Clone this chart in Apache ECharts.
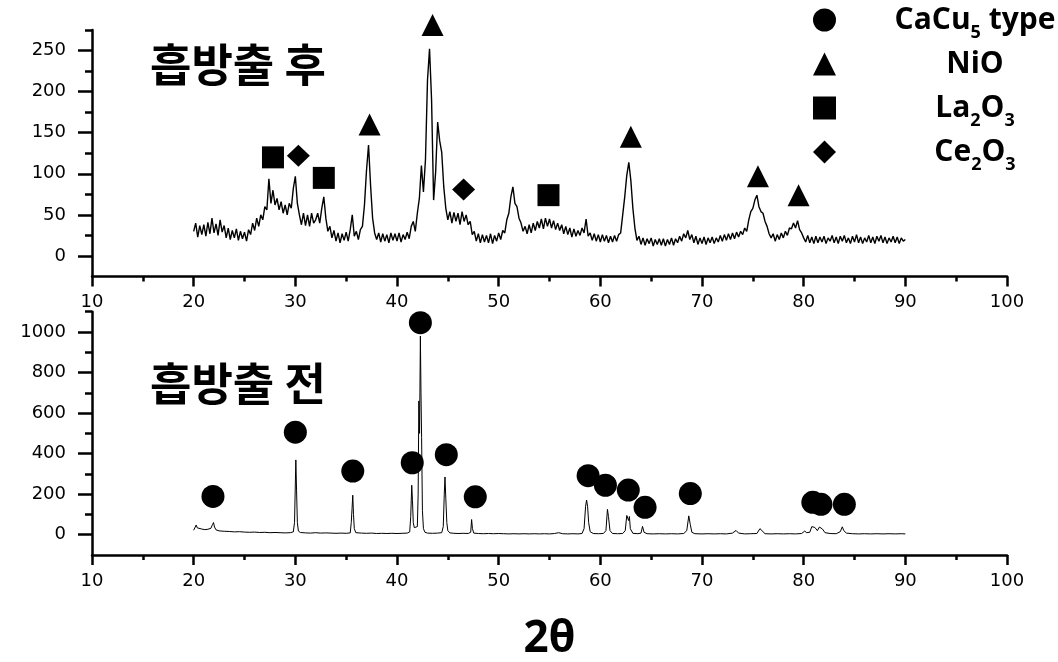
<!DOCTYPE html>
<html>
<head>
<meta charset="utf-8">
<script src="https://cdn.jsdelivr.net/npm/echarts@6/dist/echarts.min.js"></script>
<style>
html,body{margin:0;padding:0;background:#fff;}
#chart{width:1058px;height:662px;}
</style>
</head>
<body>
<div id="chart"></div>
<script>
// ---- Data ----
// Top pattern (after absorption/desorption): counts sampled every 0.2 deg from 20 to 90
const topStart = 20;
const topStep = 0.2;
const topCounts = [
  30, 40, 23, 37, 26,   38, 24, 41, 27, 46,   28, 39, 25, 44, 29,   37, 22, 34, 20, 31,
  22, 33, 19, 30, 21,   29, 18, 32, 26, 40,   31, 46, 36, 50, 44,   60, 56, 94, 64, 80,
  62, 70, 56, 66, 52,   62, 50, 64, 58, 82,   97, 64, 50, 38, 52,   37, 50, 36, 52, 40,
  44, 52, 40, 58, 72,   46, 30, 36, 22, 31,   18, 28, 16, 27, 19,   29, 18, 32, 50, 24,
  30, 20, 32, 36, 62,   104, 135, 86, 46, 28, 20, 28, 17, 27, 18,   26, 16, 28, 19, 27,
  18, 28, 17, 26, 20,   29, 21, 36, 42, 30,   52, 70, 110, 78, 117, 214, 252, 190, 68, 102,
  163, 140, 126, 84, 58, 44, 54, 40, 53, 42,  52, 38, 54, 42, 50,   38, 42, 26, 30, 18,
  27, 16, 26, 17, 25,   16, 27, 15, 25, 18,   28, 20, 31, 28, 44,   52, 72, 84, 64, 60,
  46, 40, 30, 36, 27,   38, 28, 40, 31, 42,   34, 45, 33, 46, 36,   45, 34, 43, 32, 40,
  31, 38, 27, 36, 26,   34, 23, 33, 24, 31,   25, 34, 28, 45, 24,   28, 19, 27, 18, 26,
  17, 26, 18, 25, 16,   24, 17, 25, 18, 26,   28, 50, 72, 98, 114,  92, 58, 34, 19, 24,
  14, 22, 13, 21, 15,   22, 12, 20, 14, 21,   13, 21, 12, 20, 14,   22, 13, 21, 16, 24,
  18, 27, 22, 31, 20,   26, 16, 24, 14, 22,   15, 23, 14, 22, 16,   23, 15, 22, 17, 25,
  18, 26, 19, 27, 20,   28, 21, 29, 23, 30,   26, 34, 30, 44, 54,   58, 68, 74, 60, 54,
  52, 42, 36, 27, 22,   27, 18, 26, 20, 28,   22, 30, 25, 34, 33,   40, 34, 43, 32, 28,
  22, 17, 25, 16, 23,   15, 24, 16, 23, 17,   24, 15, 22, 18, 25,   16, 23, 15, 24, 18,
  25, 16, 22, 15, 24,   17, 26, 16, 23, 15,   22, 17, 25, 16, 23,   15, 24, 18, 25, 16,
  23, 15, 22, 17, 24,   16, 23, 15, 22, 18,   20
];

// Bottom pattern (before absorption/desorption): [2theta, counts]
const bottomPattern = [
  [20.0,22],[20.15,30],[20.25,48],[20.35,34],[20.5,26],[20.8,28],[21.1,25],[21.4,27],[21.7,32],[21.85,50],
  [21.95,60],[22.05,38],[22.2,24],[22.5,19],[23.0,17],[23.5,16],[24.0,14],[24.5,15],[25.0,13],[25.5,12],
  [26.0,13],[26.5,11],[27.0,12],[27.5,10],[28.0,11],[28.5,10],[29.0,9],[29.5,10],[29.8,14],[29.92,60],
  [30.0,250],[30.05,369],[30.12,220],[30.2,60],[30.3,18],[30.5,11],[31.0,9],[31.5,8],[32.0,10],[32.5,8],
  [33.0,9],[33.5,8],[34.0,7],[34.5,8],[35.0,7],[35.4,9],[35.5,60],[35.58,130],[35.65,195],[35.72,100],
  [35.8,30],[35.95,10],[36.5,8],[37.0,7],[37.5,8],[38.0,6],[38.5,7],[39.0,6],[39.5,7],[40.0,6],
  [40.5,7],[41.0,8],[41.25,14],[41.35,90],[41.45,244],[41.52,170],[41.6,60],[41.7,35],[41.85,30],[42.0,40],
  [42.08,200],[42.15,660],[42.22,500],[42.3,980],[42.36,700],[42.42,480],[42.5,120],[42.6,30],[42.75,12],[43.0,8],
  [43.5,7],[44.0,8],[44.4,10],[44.55,40],[44.65,200],[44.72,285],[44.8,180],[44.9,60],[45.0,20],[45.2,9],
  [45.6,7],[46.0,6],[46.5,7],[47.0,6],[47.25,12],[47.34,75],[47.42,30],[47.55,8],[48.0,6],[48.5,5],
  [49.0,6],[49.5,5],[50.0,6],[50.5,5],[51.0,4],[51.5,5],[52.0,4],[52.5,5],[53.0,4],[53.5,5],
  [54.0,4],[54.5,5],[55.0,4],[55.5,6],[55.9,10],[56.3,5],[56.8,4],[57.3,5],[57.8,4],[58.2,6],
  [58.4,30],[58.55,140],[58.65,171],[58.75,138],[58.85,60],[59.0,15],[59.3,6],[59.8,5],[60.3,6],[60.55,20],
  [60.7,125],[60.8,90],[60.95,20],[61.2,6],[61.7,5],[62.2,6],[62.45,20],[62.6,95],[62.7,101],[62.78,70],
  [62.86,90],[62.95,30],[63.2,7],[63.7,5],[64.0,8],[64.15,41],[64.3,12],[64.6,5],[65.2,4],[65.8,5],
  [66.4,4],[67.0,5],[67.6,4],[68.2,6],[68.5,20],[68.7,93],[68.85,50],[69.0,12],[69.3,5],[70.0,4],
  [70.6,5],[71.2,4],[71.8,5],[72.4,4],[73.0,8],[73.35,21],[73.6,8],[74.2,4],[74.8,5],[75.4,6],
  [75.7,30],[75.8,39],[75.9,20],[76.2,5],[76.8,4],[77.4,5],[78.0,4],[78.6,5],[79.2,4],[79.8,6],
  [80.1,18],[80.3,10],[80.6,12],[80.8,40],[80.95,49],[81.1,36],[81.35,20],[81.55,38],[81.7,46],[81.85,28],
  [82.1,10],[82.6,6],[83.2,5],[83.6,15],[83.8,39],[83.95,20],[84.2,8],[84.8,5],[85.4,4],[86.0,5],
  [86.6,4],[87.2,5],[87.8,4],[88.4,5],[89.0,4],[89.6,5],[90.0,4]
];

// Phase markers [2theta, height]
const cacu5Marks = [[21.9,189],[30.0,506],[35.65,314],[41.5,355],[42.3,1046],[44.85,395],[47.7,187],
  [58.8,291],[60.5,244],[62.75,220],[64.4,135],[68.85,203],[80.9,160],[81.7,150],[84.0,150]];
const nioMarks = [[37.3,160],[43.5,281],[63.0,145],[75.5,97],[79.5,74]];
const la2o3Marks = [[27.8,120],[32.8,95],[54.9,74]];
const ce2o3Marks = [[30.3,122],[46.55,81]];

// Tick labels
const xTicks = [10,20,30,40,50,60,70,80,90,100];
const topYLabels = [0,50,100,150,200,250];
const topYMinor = [25,75,125,175,225,275];
const bottomYLabels = [0,200,400,600,800,1000];
const bottomYMinor = [100,300,500,700,900,1100];

const legendRichText = {
  'CaCu5 type': '{m|CaCu}{s|5}{m| type}',
  'NiO': '{m|NiO}',
  'La2O3': '{m|La}{s|2}{m|O}{s|3}',
  'Ce2O3': '{m|Ce}{s|2}{m|O}{s|3}'
};

// ---- Chart ----
const topPattern = topCounts.map((v, i) => [+(topStart + i * topStep).toFixed(1), v]);

const axisFont = {fontFamily: 'DejaVu Sans', fontSize: 18, color: '#000'};
const plainNumber = function (v) { return String(v); };
function xAxisFor(gridIndex, extra) {
  return Object.assign({
    gridIndex: gridIndex, type: 'value', min: 10, max: 100, interval: 10,
    axisLine: {show: true, onZero: false, lineStyle: {color: '#000', width: 2.5}},
    axisTick: {show: true, length: 10, lineStyle: {color: '#000', width: 2.5}},
    minorTick: {show: true, splitNumber: 2, length: 5, lineStyle: {color: '#000', width: 2.5}},
    axisLabel: Object.assign({margin: 17, customValues: xTicks, formatter: plainNumber}, axisFont),
    splitLine: {show: false}
  }, extra || {});
}
function yMajor(gridIndex, min, max, step, labels) {
  return {
    gridIndex: gridIndex, type: 'value', min: min, max: max, interval: step,
    axisLine: {show: true, onZero: false, lineStyle: {color: '#000', width: 2.5}},
    axisTick: {show: true, length: 14, customValues: labels, lineStyle: {color: '#000', width: 2.5}},
    axisLabel: Object.assign({margin: 26, customValues: labels, formatter: plainNumber}, axisFont),
    splitLine: {show: false}
  };
}
function yMinor(gridIndex, min, max, step, vals) {
  return {
    gridIndex: gridIndex, type: 'value', min: min, max: max, interval: step, position: 'left',
    axisLine: {show: false, onZero: false},
    axisTick: {show: true, length: 7, customValues: vals, lineStyle: {color: '#000', width: 2.5}},
    axisLabel: {show: false},
    splitLine: {show: false}
  };
}
const markStyle = {color: '#000', opacity: 1};

const chart = echarts.init(document.getElementById('chart'), null, {renderer: 'canvas'});
chart.setOption({
  animation: false,
  backgroundColor: '#fff',
  title: [
    {text: '흡방출 후', left: 150, top: 42, padding: 0,
     textStyle: {fontFamily: 'Noto Sans CJK KR', fontWeight: 'bold', fontSize: 45, color: '#000'}},
    {text: '흡방출 전', left: 150, top: 361, padding: 0,
     textStyle: {fontFamily: 'Noto Sans CJK KR', fontWeight: 'bold', fontSize: 45, color: '#000'}}
  ],
  legend: {
    orient: 'vertical', left: 813, top: -2, padding: 0, itemGap: 0,
    itemWidth: 23, itemHeight: 23, selectedMode: false,
    data: [
      {name: 'CaCu5 type', icon: 'circle'},
      {name: 'NiO', icon: 'triangle'},
      {name: 'La2O3', icon: 'rect'},
      {name: 'Ce2O3', icon: 'diamond'}
    ],
    itemStyle: {color: '#000', opacity: 1},
    formatter: function (name) { return legendRichText[name]; },
    textStyle: {
      width: 268, lineHeight: 44, color: '#000',
      rich: {
        m: {fontFamily: 'Open Sans', fontWeight: 'bold', fontSize: 30, lineHeight: 44, align: 'center', color: '#000'},
        s: {fontFamily: 'Open Sans', fontWeight: 'bold', fontSize: 18, lineHeight: 24, verticalAlign: 'bottom', align: 'center', color: '#000'}
      }
    }
  },
  grid: [
    {left: 92, right: 51, top: 30, height: 246.5},
    {left: 92, right: 51, top: 311.7, height: 246}
  ],
  xAxis: [
    xAxisFor(0),
    xAxisFor(1, {name: '2θ', nameLocation: 'middle', nameGap: 62,
      nameTextStyle: {fontFamily: 'Noto Sans', fontWeight: 'bold', fontSize: 44, color: '#000'}})
  ],
  yAxis: [
    yMajor(0, -25, 275, 25, topYLabels),
    yMinor(0, -25, 275, 25, topYMinor),
    yMajor(1, -100, 1100, 100, bottomYLabels),
    yMinor(1, -100, 1100, 100, bottomYMinor)
  ],
  series: [
    {name: 'after', type: 'line', xAxisIndex: 0, yAxisIndex: 0, data: topPattern,
     symbol: 'none', lineStyle: {color: '#000', width: 1.4}, silent: true},
    {name: 'before', type: 'line', xAxisIndex: 1, yAxisIndex: 2, data: bottomPattern,
     symbol: 'none', lineStyle: {color: '#000', width: 1}, silent: true},
    {name: 'CaCu5 type', type: 'scatter', xAxisIndex: 1, yAxisIndex: 2, data: cacu5Marks,
     symbol: 'circle', symbolSize: 23, itemStyle: markStyle, clip: false, z: 5},
    {name: 'NiO', type: 'scatter', xAxisIndex: 0, yAxisIndex: 0, data: nioMarks,
     symbol: 'triangle', symbolSize: 22, itemStyle: markStyle, clip: false, z: 5},
    {name: 'La2O3', type: 'scatter', xAxisIndex: 0, yAxisIndex: 0, data: la2o3Marks,
     symbol: 'rect', symbolSize: 22, itemStyle: markStyle, clip: false, z: 5},
    {name: 'Ce2O3', type: 'scatter', xAxisIndex: 0, yAxisIndex: 0, data: ce2o3Marks,
     symbol: 'diamond', symbolSize: [23, 22], itemStyle: markStyle, clip: false, z: 5}
  ]
});
</script>
</body>
</html>
